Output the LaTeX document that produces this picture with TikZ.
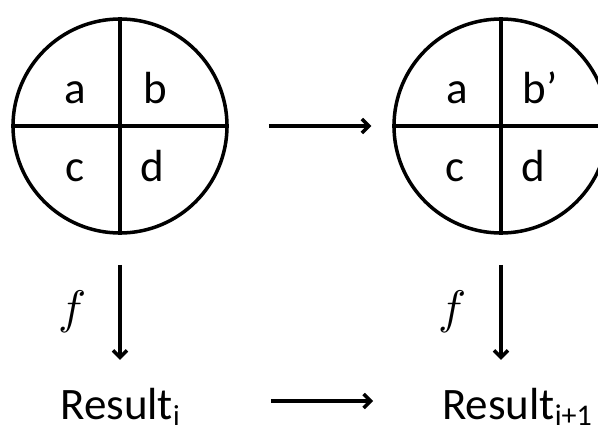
\documentclass[tikz,border=0pt]{standalone}
\usepackage{fontspec}
\setmainfont{Carlito}
\newfontfamily\lmmath{latinmodern-math.otf}
\usetikzlibrary{arrows.meta}
\tikzset{
  quad/.style={circle, draw, line width=3.5pt, minimum size=214pt, inner sep=0pt},
  cross/.style={line width=4.2pt},
  arr/.style={line width=3.4pt, -{Straight Barb[length=7pt,width=14pt,line width=3.4pt]}},
  lab/.style={inner sep=0pt, anchor=base, font=\fontsize{45}{54}\selectfont},
  res/.style={inner sep=0pt, anchor=base, text height=36pt, text depth=0pt, font=\fontsize{45}{54}\selectfont},
  fl/.style={inner sep=0pt, font=\fontsize{47}{54}\lmmath},
}
\begin{document}
\begin{tikzpicture}[x=1pt,y=-1pt]
\useasboundingbox (0,0) rectangle (598,428);
\clip (0,0) rectangle (598,428);
% circles
\node[quad] (c1) at (120,126) {};
\node[quad] (c2) at (501,126) {};
\draw[cross] (c1.north) -- (c1.south);
\draw[cross] (c1.west) -- (c1.east);
\draw[cross] (c2.north) -- (c2.south);
\draw[cross] (c2.west) -- (c2.east);
% letters
\node[lab] (a1) at (75,103) {a};
\node[lab] (b1) at (155,103) {b};
\node[lab] (cc1) at (75,182) {c};
\node[lab] (d1) at (152,182) {d};
\node[lab] (a2) at (457,103) {a};
\node[lab] (b2) at (540,103) {b’};
\node[lab] (cc2) at (455,182) {c};
\node[lab] (d2) at (533,182) {d};
% results
\node[res] (r1) at (120,419) {Result\raisebox{-6pt}{\fontsize{29}{30}\selectfont i}};
\node[res, anchor=base west] (r2) at (442,419) {Result\raisebox{-6pt}{\fontsize{30}{30}\selectfont i+1}};
% f labels
\node[fl] (f1) at (70,312) {𝑓};
\node[fl] (f2) at (450,312) {𝑓};
% arrows
\draw[arr, shorten <=40pt, shorten >=21pt] (c1.east) -- (c2.west);
\draw[arr, shorten <=30pt, shorten >=23pt] (c1.south) -- (c1.south |- r1.north);
\draw[arr, shorten <=30pt, shorten >=23pt] (c2.south) -- (c2.south |- r2.north);
\draw[arr, shorten <=91pt, shorten >=69pt] (r1.east) -- (r2.west);
\end{tikzpicture}
\end{document}
